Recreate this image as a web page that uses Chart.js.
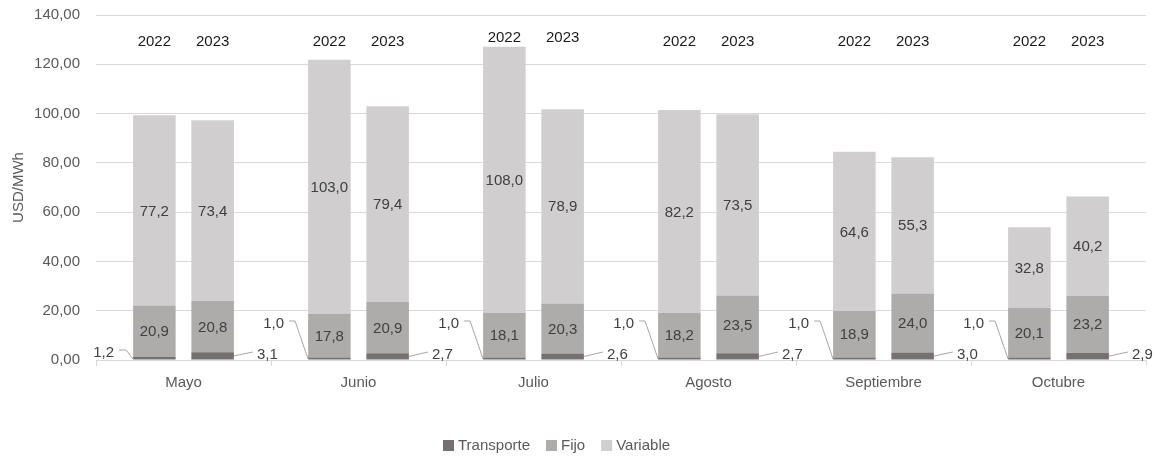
<!DOCTYPE html>
<html>
<head>
<meta charset="utf-8">
<script src="https://cdn.jsdelivr.net/npm/chart.js@4/dist/chart.umd.min.js"></script>
<style>
html,body{margin:0;padding:0;background:#fff;}
#wrap{width:1160px;height:458px;position:relative;}
</style>
</head>
<body>
<div id="wrap"><canvas id="c" width="1160" height="458"></canvas></div>
<script>
// ---- data ----
const categories = ['Mayo', 'Junio', 'Julio', 'Agosto', 'Septiembre', 'Octubre'];
const years = ['2022', '2023'];
const transporte2022 = [1.2, 1.0, 1.0, 1.0, 1.0, 1.0];
const transporte2023 = [3.1, 2.7, 2.6, 2.7, 3.0, 2.9];
const fijo2022 = [20.9, 17.8, 18.1, 18.2, 18.9, 20.1];
const fijo2023 = [20.8, 20.9, 20.3, 23.5, 24.0, 23.2];
const variable2022 = [77.2, 103.0, 108.0, 82.2, 64.6, 32.8];
const variable2023 = [73.4, 79.4, 78.9, 73.5, 55.3, 40.2];
const seriesNames = ['Transporte', 'Fijo', 'Variable'];
const yTicks = [0, 20, 40, 60, 80, 100, 120, 140];

// ---- style ----
const COLORS = {Transporte: '#767171', Fijo: '#AEABAB', Variable: '#D0CECE'};
const FONT = '"Liberation Sans", Arial, sans-serif';
const fmt1 = v => v.toFixed(1).replace('.', ',');
const fmt2 = v => v.toFixed(2).replace('.', ',');
const yearLabelY = [42, 42, 38, 42, 42, 42];

function ds(name, year, data) {
  return {label: name, stack: year, data: data, backgroundColor: COLORS[name],
    borderWidth: 0, categoryPercentage: 0.666, barPercentage: 0.73};
}

const labelsPlugin = {
  id: 'labels',
  afterDatasetsDraw(chart) {
    const ctx = chart.ctx;
    ctx.save();
    ctx.font = '15px ' + FONT;
    chart.data.datasets.forEach((d, di) => {
      const meta = chart.getDatasetMeta(di);
      meta.data.forEach((bar, i) => {
        const v = d.data[i];
        const p = bar.getProps(['x', 'y', 'base', 'width'], true);
        const left = p.x - p.width / 2, right = p.x + p.width / 2;
        if (d.label === 'Fijo' || d.label === 'Variable') {
          ctx.fillStyle = '#404040';
          ctx.textAlign = 'center';
          ctx.textBaseline = 'middle';
          ctx.fillText(fmt1(v), p.x, (p.y + p.base) / 2 + 1);
          if (d.label === 'Variable') {
            ctx.fillStyle = '#1a1a1a';
            ctx.fillText(d.stack, p.x, yearLabelY[i]);
          }
        } else {
          ctx.strokeStyle = '#a6a6a6';
          ctx.lineWidth = 1;
          ctx.fillStyle = '#404040';
          ctx.textBaseline = 'middle';
          const b = p.base;
          if (d.stack === '2022') {
            ctx.textAlign = 'right';
            ctx.beginPath();
            if (i === 0) {
              ctx.moveTo(left - 14, b - 9.5);
              ctx.lineTo(left - 7, b - 9.5);
              ctx.lineTo(left, b - 0.5);
              ctx.stroke();
              ctx.fillText(fmt1(v), left - 19, b - 7);
            } else {
              ctx.moveTo(left - 19, b - 38.5);
              ctx.lineTo(left - 13, b - 38.5);
              ctx.lineTo(left, b - 0.5);
              ctx.stroke();
              ctx.fillText(fmt1(v), left - 24, b - 36);
            }
          } else {
            ctx.textAlign = 'left';
            ctx.beginPath();
            ctx.moveTo(right, (p.y + b) / 2);
            ctx.lineTo(right + 19, b - 7.5);
            ctx.stroke();
            ctx.fillText(fmt1(v), right + 23, b - 5);
          }
        }
      });
    });
    // legend
    ctx.font = '15px ' + FONT;
    ctx.textAlign = 'left';
    ctx.textBaseline = 'middle';
    let x = 443;
    const ly = 446;
    seriesNames.forEach(n => {
      ctx.fillStyle = COLORS[n];
      ctx.fillRect(x, ly - 6, 11, 11);
      ctx.fillStyle = '#595959';
      ctx.fillText(n, x + 15, ly);
      x += 15 + ctx.measureText(n).width + 16;
    });
    ctx.restore();
  }
};

new Chart(document.getElementById('c'), {
  type: 'bar',
  data: {
    labels: categories,
    datasets: [
      ds('Transporte', years[0], transporte2022),
      ds('Fijo', years[0], fijo2022),
      ds('Variable', years[0], variable2022),
      ds('Transporte', years[1], transporte2023),
      ds('Fijo', years[1], fijo2023),
      ds('Variable', years[1], variable2023)
    ]
  },
  options: {
    responsive: false,
    animation: false,
    layout: {padding: {top: 15, right: 14, bottom: 0, left: 0}},
    plugins: {legend: {display: false}, tooltip: {enabled: false}},
    scales: {
      x: {
        stacked: true,
        offset: true,
        grid: {display: true, drawOnChartArea: false, offset: true, tickLength: 6, color: '#d9d9d9'},
        border: {color: '#d9d9d9'},
        ticks: {font: {size: 15, family: FONT}, color: '#595959', padding: 8},
        afterFit(s) { s.height = 98; s.paddingLeft = 0; s.paddingRight = 0; }
      },
      y: {
        stacked: true,
        min: 0, max: 140,
        afterBuildTicks(s) { s.ticks = yTicks.map(v => ({value: v})); },
        ticks: {font: {size: 15, family: FONT}, color: '#595959', padding: 16, callback: v => fmt2(v)},
        grid: {color: '#d9d9d9', drawTicks: false},
        border: {display: false},
        title: {display: true, text: 'USD/MWh', font: {size: 15, family: FONT}, color: '#595959', padding: {top: 10, bottom: 0}},
        afterFit(s) { s.width = 96; s.paddingTop = 0; s.paddingBottom = 0; }
      }
    }
  },
  plugins: [labelsPlugin]
});
</script>
</body>
</html>
